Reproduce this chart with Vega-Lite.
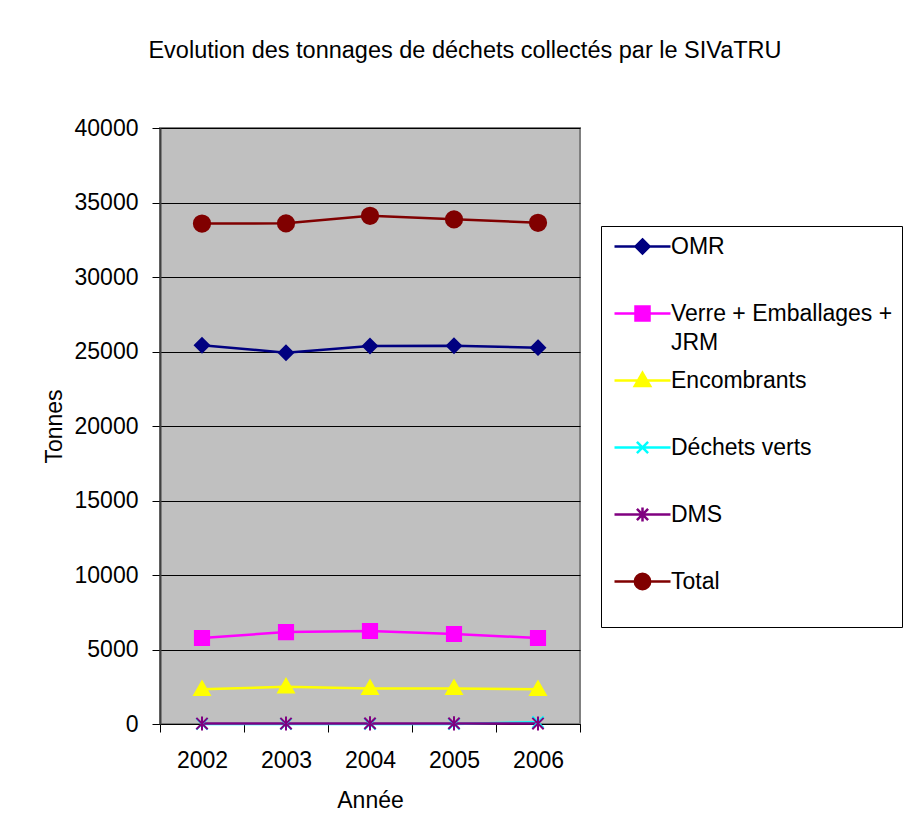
{
  "$schema": "https://vega.github.io/schema/vega-lite/v6.json",
  "autosize": "none",
  "width": 420,
  "height": 596,
  "padding": {"left": 160, "top": 128, "right": 330, "bottom": 112},
  "background": "white",
  "config": {
    "font": "Liberation Sans",
    "view": {"fill": "#C0C0C0", "stroke": "#808080", "strokeWidth": 2}
  },
  "title": {
    "text": "Evolution des tonnages de déchets collectés par le SIVaTRU",
    "font": "Liberation Sans",
    "fontSize": 23.5,
    "fontWeight": "normal",
    "color": "black",
    "anchor": "middle",
    "frame": "group",
    "dx": 95,
    "baseline": "alphabetic",
    "offset": 36
  },
  "data": {
    "values": [
      {"annee": 2002, "serie": "OMR", "tonnes": 25420},
      {"annee": 2003, "serie": "OMR", "tonnes": 24920},
      {"annee": 2004, "serie": "OMR", "tonnes": 25370},
      {"annee": 2005, "serie": "OMR", "tonnes": 25380},
      {"annee": 2006, "serie": "OMR", "tonnes": 25260},
      {"annee": 2002, "serie": "Verre + Emballages + JRM", "tonnes": 5770},
      {"annee": 2003, "serie": "Verre + Emballages + JRM", "tonnes": 6170},
      {"annee": 2004, "serie": "Verre + Emballages + JRM", "tonnes": 6240},
      {"annee": 2005, "serie": "Verre + Emballages + JRM", "tonnes": 6040},
      {"annee": 2006, "serie": "Verre + Emballages + JRM", "tonnes": 5770},
      {"annee": 2002, "serie": "Encombrants", "tonnes": 2330},
      {"annee": 2003, "serie": "Encombrants", "tonnes": 2500},
      {"annee": 2004, "serie": "Encombrants", "tonnes": 2390},
      {"annee": 2005, "serie": "Encombrants", "tonnes": 2390},
      {"annee": 2006, "serie": "Encombrants", "tonnes": 2330},
      {"annee": 2002, "serie": "Déchets verts", "tonnes": 0},
      {"annee": 2003, "serie": "Déchets verts", "tonnes": 0},
      {"annee": 2004, "serie": "Déchets verts", "tonnes": 0},
      {"annee": 2005, "serie": "Déchets verts", "tonnes": 0},
      {"annee": 2006, "serie": "Déchets verts", "tonnes": 120},
      {"annee": 2002, "serie": "DMS", "tonnes": 30},
      {"annee": 2003, "serie": "DMS", "tonnes": 30},
      {"annee": 2004, "serie": "DMS", "tonnes": 40},
      {"annee": 2005, "serie": "DMS", "tonnes": 40},
      {"annee": 2006, "serie": "DMS", "tonnes": 30},
      {"annee": 2002, "serie": "Total", "tonnes": 33590},
      {"annee": 2003, "serie": "Total", "tonnes": 33600},
      {"annee": 2004, "serie": "Total", "tonnes": 34110},
      {"annee": 2005, "serie": "Total", "tonnes": 33870},
      {"annee": 2006, "serie": "Total", "tonnes": 33640}
    ]
  },
  "encoding": {
    "x": {
      "field": "annee",
      "type": "quantitative",
      "scale": {"domain": [2001.5, 2006.5], "nice": false, "zero": false},
      "axis": {
        "title": "Année",
        "values": [2001.5, 2002.5, 2003.5, 2004.5, 2005.5, 2006.5],
        "labelExpr": "datum.value < 2006 ? format(datum.value + 0.5, 'd') : ''",
        "labelOffset": 42,
        "labelFlush": false,
        "labelBound": false,
        "labelOverlap": false,
        "labelFont": "Liberation Sans",
        "labelFontSize": 23,
        "labelColor": "black",
        "labelPadding": 17,
        "tickSize": 8,
        "tickColor": "black",
        "domainColor": "black",
        "grid": false,
        "titleFont": "Liberation Sans",
        "titleFontSize": 23,
        "titleFontWeight": "normal",
        "titleColor": "black",
        "titlePadding": 17
      }
    },
    "y": {
      "field": "tonnes",
      "type": "quantitative",
      "scale": {"domain": [0, 40000], "nice": false},
      "axis": {
        "title": "Tonnes",
        "values": [0, 5000, 10000, 15000, 20000, 25000, 30000, 35000, 40000],
        "format": "d",
        "labelFont": "Liberation Sans",
        "labelFontSize": 23,
        "labelColor": "black",
        "labelPadding": 14,
        "tickSize": 8,
        "tickColor": "black",
        "domainColor": "#404040",
        "domainWidth": 2,
        "grid": true,
        "gridColor": "black",
        "gridOpacity": 1,
        "gridWidth": 1,
        "titleFont": "Liberation Sans",
        "titleFontSize": 23,
        "titleFontWeight": "normal",
        "titleColor": "black",
        "titlePadding": 8
      }
    }
  },
  "resolve": {"scale": {"color": "independent", "shape": "independent", "stroke": "independent"}},
  "layer": [
    {
      "mark": {"type": "line", "strokeWidth": 2.5},
      "encoding": {
        "color": {
          "field": "serie",
          "type": "nominal",
          "scale": {
            "domain": ["OMR", "Verre + Emballages + JRM", "Encombrants", "Déchets verts", "DMS", "Total"],
            "range": ["#000080", "#FF00FF", "#FFFF00", "#00FFFF", "#800080", "#800000"]
          },
          "legend": null
        }
      }
    },
    {
      "mark": {"type": "point", "filled": true, "size": 200, "strokeWidth": 2, "opacity": 1},
      "encoding": {
        "color": {
          "field": "serie",
          "type": "nominal",
          "scale": {
            "domain": ["OMR", "Verre + Emballages + JRM", "Encombrants", "Déchets verts", "DMS", "Total"],
            "range": ["#000080", "#FF00FF", "#FFFF00", "#00FFFF", "#800080", "#800000"]
          },
          "legend": null
        },
        "shape": {
          "field": "serie",
          "type": "nominal",
          "scale": {
            "domain": ["OMR", "Verre + Emballages + JRM", "Encombrants", "Déchets verts", "DMS", "Total"],
            "range": ["M0,-1L1,0L0,1L-1,0Z", "M-1,-1H1V1H-1Z", "M0,-1.1L1.1,0.8H-1.1Z", "M-0.8,-0.8L0.8,0.8M-0.8,0.8L0.8,-0.8", "M-0.8,-0.8L0.8,0.8M-0.8,0.8L0.8,-0.8M0,-1V1", "M1.15,0A1.15,1.15,0,1,1,-1.15,0A1.15,1.15,0,1,1,1.15,0Z"]
          },
          "legend": null
        },
        "stroke": {
          "field": "serie",
          "type": "nominal",
          "scale": {
            "domain": ["OMR", "Verre + Emballages + JRM", "Encombrants", "Déchets verts", "DMS", "Total"],
            "range": ["#000080", "#FF00FF", "#FFFF00", "#00FFFF", "#800080", "#800000"]
          },
          "legend": null
        }
      }
    },
    {
      "transform": [{"filter": "datum.tonnes < 0"}],
      "mark": {"type": "point", "filled": true, "size": 196, "strokeWidth": 2.5, "opacity": 1},
      "encoding": {
        "color": {
          "field": "serie",
          "type": "nominal",
          "scale": {
            "domain": ["OMR", "Verre + Emballages + JRM", "Encombrants", "Déchets verts", "DMS", "Total"],
            "range": ["#000080", "#FF00FF", "#FFFF00", "#00FFFF", "#800080", "#800000"]
          },
          "legend": {
            "title": "\u00a0",
            "titleOrient": "bottom",
            "titleFontSize": 14,
            "titlePadding": 10,
            "orient": "none",
            "legendX": 441,
            "legendY": 98,
            "strokeColor": "black",
            "fillColor": "white",
            "padding": 9,
            "gridAlign": "all",
            "rowPadding": 12,
            "labelFont": "Liberation Sans",
            "labelFontSize": 23,
            "labelColor": "black",
            "labelLimit": 400,
            "labelOffset": 38,
            "symbolSize": 196,
            "symbolOpacity": 1,
            "symbolStrokeWidth": 2.5,
            "labelExpr": "datum.label == 'Verre + Emballages + JRM' ? ['Verre + Emballages +', 'JRM'] : datum.label",
            "encoding": {
              "labels": {"lineHeight": {"value": 29}}
            }
          }
        },
        "shape": {
          "field": "serie",
          "type": "nominal",
          "scale": {
            "domain": ["OMR", "Verre + Emballages + JRM", "Encombrants", "Déchets verts", "DMS", "Total"],
            "range": ["M-1,0H7M3,-1L4,0L3,1L2,0Z", "M-1,0H7M2,-1H4V1H2Z", "M-1,0H7M3,-1.1L4.1,0.8H1.9Z", "M-1,0H7M2.2,-0.8L3.8,0.8M2.2,0.8L3.8,-0.8", "M-1,0H7M2.2,-0.8L3.8,0.8M2.2,0.8L3.8,-0.8M3,-1V1", "M-1,0H7M4.1,0A1.1,1.1,0,1,1,1.9,0A1.1,1.1,0,1,1,4.1,0Z"]
          },
          "legend": {"title": "\u00a0"}
        },
        "stroke": {
          "field": "serie",
          "type": "nominal",
          "scale": {
            "domain": ["OMR", "Verre + Emballages + JRM", "Encombrants", "Déchets verts", "DMS", "Total"],
            "range": ["#000080", "#FF00FF", "#FFFF00", "#00FFFF", "#800080", "#800000"]
          },
          "legend": {"title": "\u00a0"}
        }
      }
    }
  ]
}
